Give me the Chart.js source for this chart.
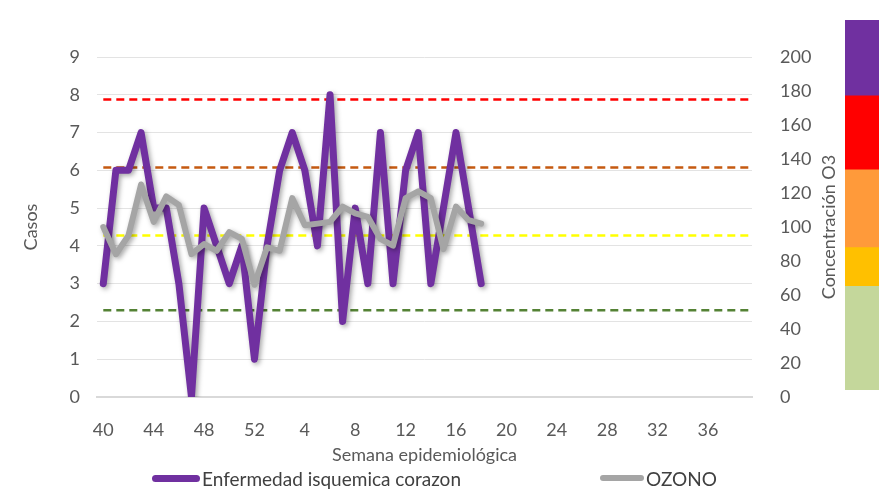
<!DOCTYPE html>
<html lang="es">
<head>
<meta charset="utf-8">
<script src="https://cdn.jsdelivr.net/npm/chart.js@4"></script>
<style>
  html, body { margin: 0; padding: 0; background: #fff; overflow: hidden; }
  #contenedor { position: relative; width: 879px; height: 492px; font-family: Lato, sans-serif; }
  #grafico { position: absolute; left: 0; top: 0; }
  #barraColor { position: absolute; left: 845px; top: 20px; }
  #leyenda { position: absolute; left: 0; top: 466px; width: 879px; height: 24px; font-size: 19px; color: #404040; }
  .item { position: absolute; top: 0; display: flex; align-items: center; height: 24px; }
  .muestra { display: inline-block; height: 7px; border-radius: 4px; margin-right: 2px; }
</style>
</head>
<body>
<div id="contenedor">
  <canvas id="grafico" width="879" height="492"></canvas>
  <canvas id="barraColor" width="40" height="370"></canvas>
  <div id="leyenda">
    <div class="item" style="left:152px"><span class="muestra" style="width:48px;background:#7030A0"></span>Enfermedad isquemica corazon</div>
    <div class="item" style="left:600px"><span class="muestra" style="width:44px;height:6px;background:#A5A5A5"></span>OZONO</div>
  </div>
</div>
<script>
// Semanas epidemiologicas (40 a 52 y luego 1 a 39)
const semanas = ['40','41','42','43','44','45','46','47','48','49','50','51','52',
  '1','2','3','4','5','6','7','8','9','10','11','12','13','14','15','16','17','18','19','20',
  '21','22','23','24','25','26','27','28','29','30','31','32','33','34','35','36','37','38','39'];

// Casos de enfermedad isquemica del corazon (semana 40 a semana 18)
const casos = [3, 6, 6, 7, 5, 5, 3, 0, 5, 4, 3, 4, 1, 4, 6, 7, 6, 4, 8, 2, 5, 3, 7, 3, 6, 7, 3, 5, 7, 5, 3];

// Concentracion de ozono (eje derecho)
const ozono = [100, 84, 95, 125, 103, 118, 113, 84, 90, 86, 97, 93, 66, 88, 86, 117, 101, 102, 103,
  112, 108, 106, 93, 89, 117, 121, 117, 87, 112, 104, 102];

// Niveles de referencia del ozono (lineas punteadas)
const umbrales = [175, 135, 95, 51];
const coloresUmbral = ['#FF0000', '#C55A11', '#FFFF00', '#548235'];

// Barra de colores a la derecha (de abajo hacia arriba)
const rangosColor = [56, 21, 42, 40, 41];
const coloresRango = ['#C4D79B', '#FFC000', '#FF9A3A', '#FF0000', '#7030A0'];

const gris = '#595959';
const fuente = { family: 'Lato', size: 18 };

// Lineas punteadas de los umbrales, debajo de las series
const lineasUmbral = {
  id: 'lineasUmbral',
  beforeDatasetsDraw(chart) {
    const ctx = chart.ctx;
    const x0 = chart.scales.x.getPixelForValue(0);
    const x1 = chart.chartArea.right;
    umbrales.forEach((u, i) => {
      const y = chart.scales.y1.getPixelForValue(u);
      ctx.save();
      ctx.strokeStyle = coloresUmbral[i];
      ctx.lineWidth = 2.5;
      ctx.setLineDash([8, 5]);
      ctx.beginPath();
      ctx.moveTo(x0, y);
      ctx.lineTo(x1, y);
      ctx.stroke();
      ctx.restore();
    });
  }
};

// Sombra de las lineas como en Excel
const sombra = {
  id: 'sombra',
  beforeDatasetDraw(chart) {
    const ctx = chart.ctx;
    ctx.save();
    ctx.shadowColor = 'rgba(0,0,0,0.35)';
    ctx.shadowBlur = 5;
    ctx.shadowOffsetX = 2;
    ctx.shadowOffsetY = 2;
  },
  afterDatasetDraw(chart) {
    chart.ctx.restore();
  }
};

// Titulo del eje derecho, leido de abajo hacia arriba
const tituloDerecho = {
  id: 'tituloDerecho',
  afterDraw(chart) {
    const ctx = chart.ctx;
    const a = chart.chartArea;
    ctx.save();
    ctx.translate(chart.scales.y1.left + 77, (a.top + a.bottom) / 2);
    ctx.rotate(-Math.PI / 2);
    ctx.textAlign = 'center';
    ctx.textBaseline = 'middle';
    ctx.font = '18px Lato';
    ctx.fillStyle = gris;
    ctx.fillText('Concentración O3', 0, 0);
    ctx.restore();
  }
};

new Chart(document.getElementById('grafico'), {
  type: 'line',
  data: {
    labels: semanas,
    datasets: [{
      label: 'Enfermedad isquemica corazon',
      data: casos,
      yAxisID: 'y',
      borderColor: '#7030A0',
      borderWidth: 7,
      pointRadius: 0,
      tension: 0,
      borderJoinStyle: 'round',
      borderCapStyle: 'round',
      order: 1
    }, {
      label: 'OZONO',
      data: ozono,
      yAxisID: 'y1',
      borderColor: '#A5A5A5',
      borderWidth: 6,
      pointRadius: 0,
      tension: 0,
      borderJoinStyle: 'round',
      borderCapStyle: 'round',
      order: 0
    }]
  },
  options: {
    responsive: false,
    animation: false,
    layout: { padding: { top: 57, left: 0, right: 0, bottom: 25 } },
    plugins: { legend: { display: false }, tooltip: { enabled: false } },
    scales: {
      x: {
        offset: true,
        grid: { display: false },
        border: { color: '#D9D9D9', width: 2 },
        ticks: {
          color: gris, font: fuente, padding: 14, autoSkip: false, maxRotation: 0,
          callback: (v, i) => (i % 4 === 0 ? semanas[i] : '')
        },
        title: { display: true, text: 'Semana epidemiológica', color: gris, font: fuente, padding: { top: 0, bottom: 1 } },
        afterFit: s => { s.height = 70; }
      },
      y: {
        position: 'left',
        min: 0, max: 9,
        grid: { color: '#E3E3E3', drawTicks: false },
        border: { display: false },
        ticks: { stepSize: 1, color: gris, font: fuente, padding: 17 },
        title: { display: true, text: 'Casos', color: gris, font: fuente, padding: { top: 20, bottom: 0 } },
        afterFit: s => { s.width = 97; }
      },
      y1: {
        position: 'right',
        min: 0, max: 200,
        grid: { display: false, drawTicks: false },
        border: { display: false },
        ticks: { stepSize: 20, color: gris, font: fuente, padding: 28 },
        afterFit: s => { s.width = 127; }
      }
    }
  },
  plugins: [lineasUmbral, sombra, tituloDerecho]
});

// Barra de colores de la escala de ozono
new Chart(document.getElementById('barraColor'), {
  type: 'bar',
  data: {
    labels: [''],
    datasets: rangosColor.map((r, i) => ({
      data: [r],
      backgroundColor: coloresRango[i],
      borderWidth: 0,
      barPercentage: 1,
      categoryPercentage: 1
    }))
  },
  options: {
    responsive: false,
    animation: false,
    layout: { padding: 0 },
    plugins: { legend: { display: false }, tooltip: { enabled: false } },
    scales: {
      x: { stacked: true, display: false },
      y: { stacked: true, display: false, min: 0, max: rangosColor.reduce((a, b) => a + b, 0) }
    }
  }
});
</script>
</body>
</html>
